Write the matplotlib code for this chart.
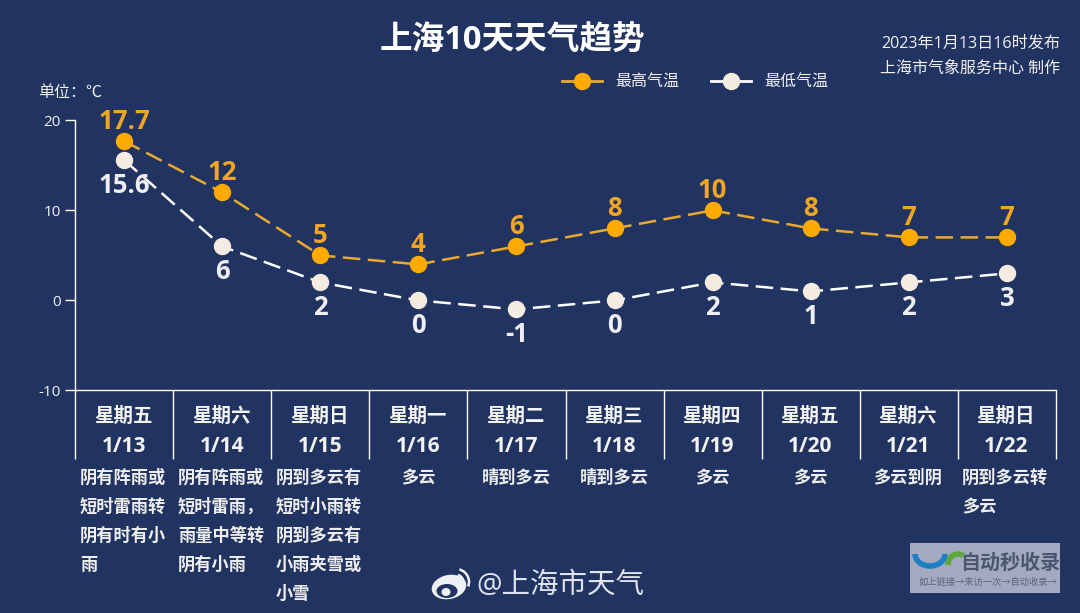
import matplotlib
matplotlib.use("Agg")
import matplotlib.pyplot as plt
import numpy as np
from matplotlib.patches import Ellipse, Arc, Rectangle

plt.rcParams['font.family'] = ['Open Sans', 'Noto Sans CJK SC', 'DejaVu Sans']
plt.rcParams['axes.unicode_minus'] = False

weekdays = ['星期五', '星期六', '星期日', '星期一', '星期二', '星期三', '星期四', '星期五', '星期六', '星期日']
dates = ['1/13', '1/14', '1/15', '1/16', '1/17', '1/18', '1/19', '1/20', '1/21', '1/22']
high = [17.7, 12, 5, 4, 6, 8, 10, 8, 7, 7]
low = [15.6, 6, 2, 0, -1, 0, 2, 1, 2, 3]
high_labels = ['17.7', '12', '5', '4', '6', '8', '10', '8', '7', '7']
low_labels = ['15.6', '6', '2', '0', '-1', '0', '2', '1', '2', '3']
conditions = [
    ['阴有阵雨或', '短时雷雨转', '阴有时有小', '雨'],
    ['阴有阵雨或', '短时雷雨，', '雨量中等转', '阴有小雨'],
    ['阴到多云有', '短时小雨转', '阴到多云有', '小雨夹雪或', '小雪'],
    ['多云'],
    ['晴到多云'],
    ['晴到多云'],
    ['多云'],
    ['多云'],
    ['多云到阴'],
    ['阴到多云转', '多云'],
]

W, H = 1080, 613
BG = '#213361'
ORANGE = '#ffaa00'
ORANGE_LINE = '#e8aa2e'
CREAM = '#f6ebe1'
WHITE = '#ffffff'

fig = plt.figure(figsize=(W / 100, H / 100), dpi=100, facecolor=BG)
ax = fig.add_axes([75 / W, 1 - 390.4 / H, 981 / W, 270 / H], facecolor='none')

x = np.arange(len(dates)) + 0.5
dash = (7.0, 3.0)
ax.plot(x, high, color=ORANGE_LINE, lw=1.8, dashes=dash, marker='o', ms=11.5,
        mfc=ORANGE, mec=ORANGE, clip_on=False, zorder=3)
ax.plot(x, low, color=WHITE, lw=1.8, dashes=dash, marker='o', ms=11.5,
        mfc=CREAM, mec=CREAM, clip_on=False, zorder=3)

for xi, v, s in zip(x, high, high_labels):
    ax.annotate(s, (xi, v), xytext=(0, 4.5), textcoords='offset points', ha='center', va='bottom',
                color='#f0a623', fontsize=18.5, fontweight='bold', annotation_clip=False)
for xi, v, s in zip(x, low, low_labels):
    ax.annotate(s, (xi, v), xytext=(0, -8.5), textcoords='offset points', ha='center', va='top',
                color='#eeeef4', fontsize=18.5, fontweight='bold', annotation_clip=False)

ax.set_xlim(0, 10)
ax.set_ylim(-10, 20)
ax.set_yticks([-10, 0, 10, 20])
ax.set_xticks(np.arange(11))
ax.set_xticklabels([])
ax.tick_params(axis='x', length=50, width=1, color=WHITE)
ax.tick_params(axis='y', length=7, width=1, color=WHITE, labelcolor='#f2f2f2', labelsize=11, pad=3)
for side in ['top', 'right']:
    ax.spines[side].set_visible(False)
for side in ['left', 'bottom']:
    ax.spines[side].set_color(WHITE)
    ax.spines[side].set_linewidth(1)

# overlay in pixel coordinates for the text around the plot
ov = fig.add_axes([0, 0, 1, 1], facecolor='none')
ov.set_xlim(0, W)
ov.set_ylim(H, 0)
ov.axis('off')

ov.text(512, 41, '上海10天天气趋势', color=WHITE, fontsize=23.5, fontweight='bold', ha='center', va='center')
ov.text(1060, 44, '2023年1月13日16时发布', color='#f0f0f0', fontsize=11.6, ha='right', va='center')
ov.text(1060, 69, '上海市气象服务中心 制作', color='#f0f0f0', fontsize=11.5, ha='right', va='center')
ov.text(38, 93, '单位：℃', color='#f0f0f0', fontsize=11.5, ha='left', va='center')

for i in range(len(dates)):
    cx = 124 + 98 * i
    ov.text(cx, 417, weekdays[i], color='#f4f4f4', fontsize=14, fontweight='bold', ha='center', va='center')
    ov.text(cx, 446, dates[i], color='#f4f4f4', fontsize=15, fontweight='bold', ha='center', va='center')
    lines = conditions[i]
    left = len(lines) > 1
    for j, line in enumerate(lines):
        ov.text(cx - 44 if left else cx, 478 + 29 * j, line, color='#eeeeee', fontsize=12.4,
                fontweight='bold', ha='left' if left else 'center', va='center')

# legend
handles = [
    plt.Line2D([], [], color=ORANGE_LINE, lw=2, marker='o', ms=11.5, mfc=ORANGE, mec=ORANGE),
    plt.Line2D([], [], color=WHITE, lw=2, marker='o', ms=11.5, mfc=CREAM, mec=CREAM),
]
fig.legend(handles, ['最高气温', '最低气温'], loc='center', bbox_to_anchor=(695 / W, 1 - 82.5 / H), ncol=2,
           frameon=False, fontsize=11.5, labelcolor='#f0f0f0', handlelength=2.5, handletextpad=0.85,
           columnspacing=1.95)

# weibo mark and handle
ov.add_patch(Ellipse((449, 587), 35, 24, angle=-12, fc='#eef0f4', ec='none'))
ov.add_patch(Ellipse((447, 591), 21, 14, fc=BG, ec='none'))
ov.add_patch(Ellipse((446, 592), 9, 8, fc='#eef0f4', ec='none'))
ov.add_patch(Arc((456, 582), 26, 26, theta1=285, theta2=20, color='#eef0f4', lw=1.8))
ov.add_patch(Arc((456, 582), 15, 15, theta1=285, theta2=20, color='#eef0f4', lw=1.5))
ov.text(476, 586, '@上海市天气', color='#dfe3ee', fontsize=20.5, ha='left', va='center')

# site watermark
ov.add_patch(Rectangle((910, 543), 150, 50, fc='#a3aabf', ec='none'))
ov.add_patch(Arc((930, 554), 30, 24, theta1=0, theta2=180, color='#1d7fc4', lw=4))
ov.add_patch(Arc((958, 565), 20, 22, theta1=180, theta2=300, color='#5ca83a', lw=4))
ov.text(1010, 564, '自动秒收录', color='#4a566f', fontsize=14.4, fontweight='bold', ha='center', va='center')
ov.text(988, 582, '如上链接→来访一次→自动收录→', color='#5a6580', fontsize=6.7, ha='center', va='center')

fig.savefig('out.png', dpi=100, facecolor=BG)
